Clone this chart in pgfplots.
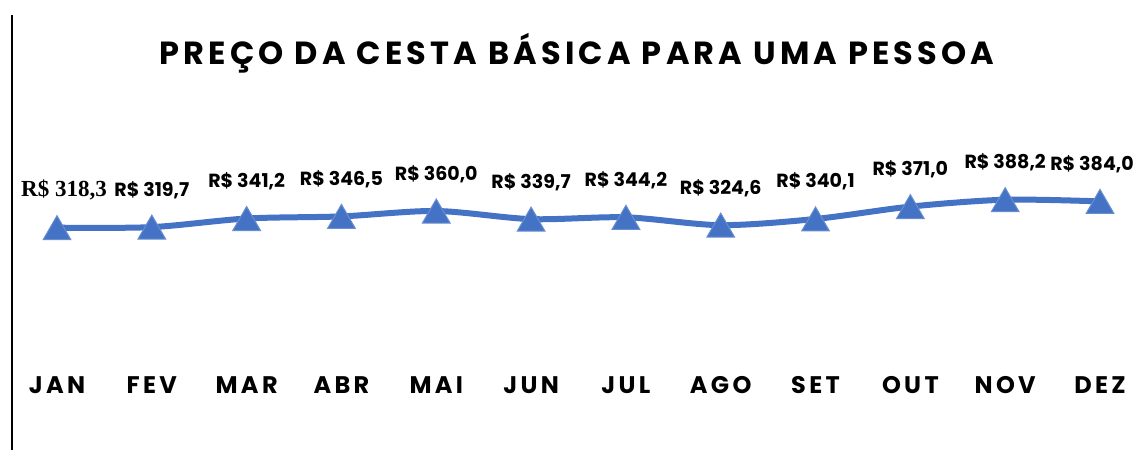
\documentclass[border=0pt]{standalone}
\usepackage{fontspec}
\setmainfont{Poppins}
\newfontfamily\titlefont[LetterSpace=13]{Poppins}
\newfontfamily\catfont[LetterSpace=14]{Poppins}
\newfontfamily\seriffont{Liberation Serif}
\usepackage{pgfplots}
\usepackage{pgfplotstable}
\pgfplotsset{compat=1.18}
\definecolor{lineblue}{HTML}{4472C4}

\pgfplotstableread{
x y
0 318.3
1 319.7
2 341.2
3 346.5
4 360.0
5 339.7
6 344.2
7 324.6
8 340.1
9 371.0
10 388.2
11 384.0
}\datatable

\pgfplotstableread{
x y
1 319.7
2 341.2
3 346.5
4 360.0
5 339.7
6 344.2
7 324.6
8 340.1
9 371.0
10 388.2
}\labtable

\pgfplotstableread{
x y
11 384.0
}\lasttable

\pgfplotstableread{
x y
0 318.3
}\firsttable

\begin{document}
\begin{tikzpicture}
\useasboundingbox (0,0) rectangle (1135pt,450pt);
\draw[line width=1.5pt] (12pt,0) -- (12pt,435pt);
\node[font=\titlefont\bfseries\fontsize{32}{38}\selectfont, anchor=base] at (577pt,385pt) {PREÇO DA CESTA BÁSICA PARA UMA PESSOA};
\begin{axis}[
  at={(57pt,95pt)}, anchor=south west,
  scale only axis, width=1043pt, height=200pt,
  xmin=0, xmax=11, ymin=0, ymax=500,
  clip=false,
  axis line style={draw=none},
  ytick=\empty,
  xtick={0,...,11},
  xticklabels={JAN,FEV,MAR,ABR,MAI,JUN,JUL,AGO,SET,OUT,NOV,DEZ},
  major tick length=0pt,
  xticklabel style={anchor=base, yshift=-38pt, font=\catfont\bfseries\fontsize{24}{28}\selectfont},
  /pgf/number format/assume math mode=true,
  labstyle/.style={draw=none, mark=none,
    nodes near coords={R\$ \pgfmathprintnumber[fixed, fixed zerofill, precision=1, use comma, assume math mode=true]{\pgfplotspointmeta}},
    point meta=y},
]
\addplot[lineblue, line width=6pt, smooth, mark=triangle*, mark size=16pt,
  mark options={yshift=-4pt, fill=lineblue, draw=lineblue!80!white, line width=1pt}]
  table[x=x,y=y]{\datatable};
\addplot[labstyle,
  nodes near coords style={anchor=base, yshift=31pt, font=\bfseries\fontsize{19}{22}\selectfont, text=black}]
  table[x=x,y=y]{\labtable};
\addplot[labstyle,
  nodes near coords style={anchor=base, yshift=31pt, xshift=-8pt, font=\bfseries\fontsize{19}{22}\selectfont, text=black}]
  table[x=x,y=y]{\lasttable};
\addplot[labstyle,
  nodes near coords style={anchor=base, yshift=31pt, xshift=7pt, font=\seriffont\bfseries\fontsize{23}{26}\selectfont, text=black}]
  table[x=x,y=y]{\firsttable};
\end{axis}
\end{tikzpicture}
\end{document}
